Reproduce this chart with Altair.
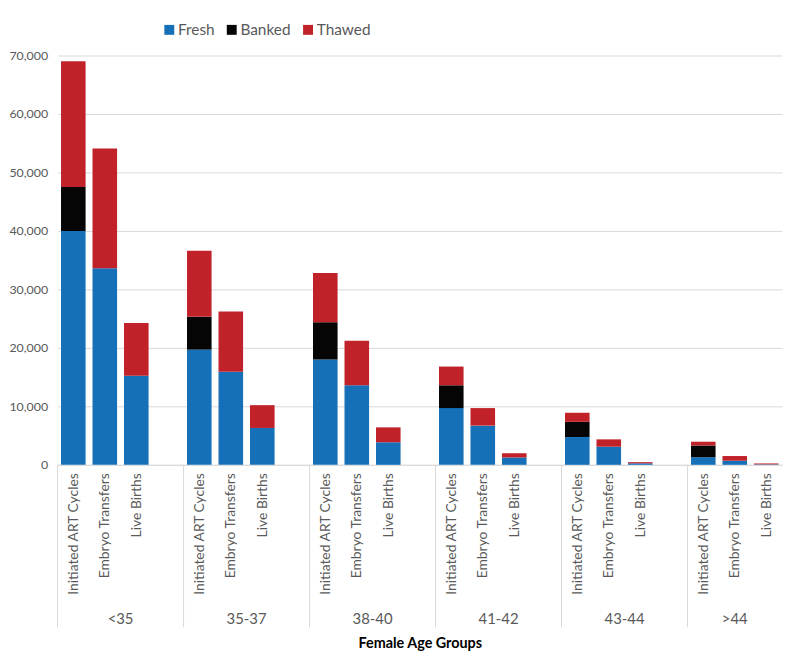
import json
import altair as alt
import pandas as pd

# ---- data ----
groups = ["<35", "35-37", "38-40", "41-42", "43-44", ">44"]
measures = ["Initiated ART Cycles", "Embryo Transfers", "Live Births"]
types = ["Fresh", "Banked", "Thawed"]
colors = ["#1570B8", "#050505", "#C1222A"]

fresh = [40000, 33600, 15250,
         19700, 15900, 6300,
         18000, 13600, 3850,
         9700, 6700, 1250,
         4750, 3100, 250,
         1300, 700, 80]
banked = [7500, 0, 0,
          5600, 0, 0,
          6400, 0, 0,
          3900, 0, 0,
          2600, 0, 0,
          2000, 0, 0]
thawed = [21500, 20500, 9000,
          11300, 10300, 3900,
          8400, 7600, 2550,
          3200, 3000, 730,
          1550, 1250, 200,
          650, 800, 150]
y_ticks = [0, 10000, 20000, 30000, 40000, 50000, 60000, 70000]

# ---- build tables ----
series = [fresh, banked, thawed]
rows = []
for gi, g in enumerate(groups):
    for mi, m in enumerate(measures):
        k = gi * len(measures) + mi
        slot = gi * (len(measures) + 1) + mi
        for si, t in enumerate(types):
            rows.append({"group": g, "measure": m, "type": t, "sidx": si,
                         "slot": slot, "value": series[si][k]})
df = pd.DataFrame(rows)
slot_values = sorted(df["slot"].unique().tolist())
n_slots = len(groups) * (len(measures) + 1) - 1
gdf = pd.DataFrame({"group": groups, "gi": list(range(len(groups)))})

W, H = 731, 413
step = len(measures) + 1
xdom = [-0.5, n_slots - 0.5]
xscale = alt.Scale(domain=xdom, nice=False, zero=False)
yscale = alt.Scale(domain=[0, 70000], nice=False)

label_expr = json.dumps(measures + [""]) + f"[datum.value % {step}]"

FONT = "Lato"
GRAY = "#595959"
GRID = "#D9D9D9"

xaxis = alt.Axis(values=slot_values, labelExpr=label_expr,
                 labelAngle=270, ticks=False, grid=False,
                 domainColor=GRID, labelPadding=8,
                 labelFont=FONT, labelFontSize=14,
                 labelColor=GRAY, labelOverlap=False,
                 title="Female Age Groups", titleY=180,
                 titleBaseline="middle", titleFont=FONT,
                 titleFontSize=14.5, titleFontWeight="bold",
                 titleColor="#000000")

bars = alt.Chart(df).transform_stack(
    stack="value", groupby=["slot"],
    sort=[alt.SortField("sidx", order="ascending")],
    as_=["v0", "v1"],
).transform_calculate(
    xa="datum.slot - 0.39", xb="datum.slot + 0.39"
).mark_bar().encode(
    x=alt.X("xa:Q", scale=xscale, axis=xaxis),
    x2="xb:Q",
    y=alt.Y("v0:Q", scale=yscale,
            axis=alt.Axis(values=y_ticks, format=",d", domain=False,
                          ticks=False, gridColor=GRID, labelPadding=10,
                          labelFont=FONT, labelFontSize=12.5,
                          labelColor=GRAY, title=None)),
    y2="v1:Q",
    color=alt.Color("type:N",
                    scale=alt.Scale(domain=types, range=colors),
                    legend=alt.Legend(orient="none", legendX=105,
                                      legendY=-34, direction="horizontal",
                                      title=None, symbolType="square",
                                      symbolSize=100, symbolStrokeWidth=0,
                                      labelFont=FONT, labelFontSize=15.5,
                                      labelColor=GRAY, columnPadding=9,
                                      labelOffset=1)),
)

seps = alt.Chart(gdf).transform_calculate(
    xs=f"datum.gi * {step} - 0.5"
).mark_rule(color=GRID, strokeWidth=1).encode(
    x=alt.X("xs:Q", scale=xscale, axis=xaxis),
    y=alt.value(H), y2=alt.value(H + 164),
)

glabels = alt.Chart(gdf).transform_calculate(
    xc=f"(datum.gi * {step} - 0.5 + min(datum.gi * {step} + {step} - 0.5, {xdom[1]})) / 2"
).mark_text(font=FONT, fontSize=15, color=GRAY, baseline="middle").encode(
    x=alt.X("xc:Q", scale=xscale, axis=xaxis),
    y=alt.value(H + 156),
    text="group:N",
)

chart = alt.layer(bars, seps, glabels).properties(
    width=W, height=H,
    padding={"left": 50, "top": 45, "right": 2, "bottom": 190},
    autosize=alt.AutoSizeParams(type="none"),
).configure_view(stroke=None)

chart.save("out.html", embed_options={"renderer": "svg", "actions": False})
